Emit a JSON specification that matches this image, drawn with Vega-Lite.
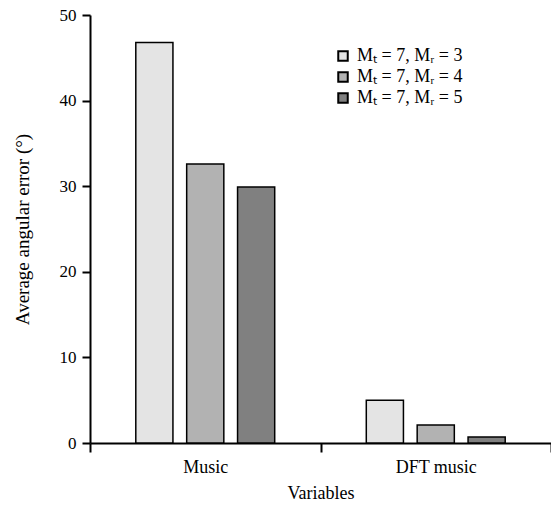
{
  "$schema": "https://vega.github.io/schema/vega-lite/v6.json",
  "autosize": "none",
  "padding": {"left": 90, "top": 15, "right": 0, "bottom": 64},
  "width": 461,
  "height": 428,
  "background": "white",
  "config": {
    "view": {"stroke": null},
    "font": "Liberation Serif",
    "axis": {"labelFont": "Liberation Serif", "titleFont": "Liberation Serif", "labelColor": "black", "titleColor": "black", "titleFontWeight": "normal", "domainColor": "black", "tickColor": "black"}
  },
  "data": {
    "values": [
      {"variable": "Music", "series": "Mₜ = 7, Mᵣ = 3", "error": 46.8},
      {"variable": "Music", "series": "Mₜ = 7, Mᵣ = 4", "error": 32.6},
      {"variable": "Music", "series": "Mₜ = 7, Mᵣ = 5", "error": 29.9},
      {"variable": "DFT music", "series": "Mₜ = 7, Mᵣ = 3", "error": 5.0},
      {"variable": "DFT music", "series": "Mₜ = 7, Mᵣ = 4", "error": 2.1},
      {"variable": "DFT music", "series": "Mₜ = 7, Mᵣ = 5", "error": 0.7}
    ]
  },
  "mark": {"type": "bar", "stroke": "black", "strokeWidth": 1.5},
  "encoding": {
    "x": {
      "field": "variable", "type": "nominal", "sort": ["Music", "DFT music"],
      "scale": {"paddingInner": 0, "paddingOuter": 0},
      "axis": {"title": "Variables", "labelAngle": 0, "labelFontSize": 18, "titleFontSize": 18, "labelPadding": 6, "titlePadding": 8, "tickBand": "extent", "tickSize": 9, "tickWidth": 2, "domainWidth": 2}
    },
    "xOffset": {
      "field": "series", "type": "nominal",
      "scale": {"paddingInner": 0.27, "paddingOuter": 0.9}
    },
    "y": {
      "field": "error", "type": "quantitative",
      "scale": {"domain": [0, 50]},
      "axis": {"title": "Average angular error (°)", "values": [0, 10, 20, 30, 40, 50], "grid": false, "labelFontSize": 17, "titleFontSize": 19, "tickSize": 8, "tickWidth": 2, "domainWidth": 2, "labelPadding": 6, "titlePadding": 27}
    },
    "fill": {
      "field": "series", "type": "nominal",
      "scale": {"range": ["#e4e4e4", "#b2b2b2", "#808080"]},
      "legend": {"title": null, "orient": "none", "legendX": 244, "legendY": 32, "symbolType": "square", "symbolSize": 90, "symbolStrokeColor": "black", "symbolStrokeWidth": 2, "labelFont": "Liberation Serif", "labelFontSize": 18, "labelColor": "black", "rowPadding": 3, "labelOffset": 5}
    }
  }
}
